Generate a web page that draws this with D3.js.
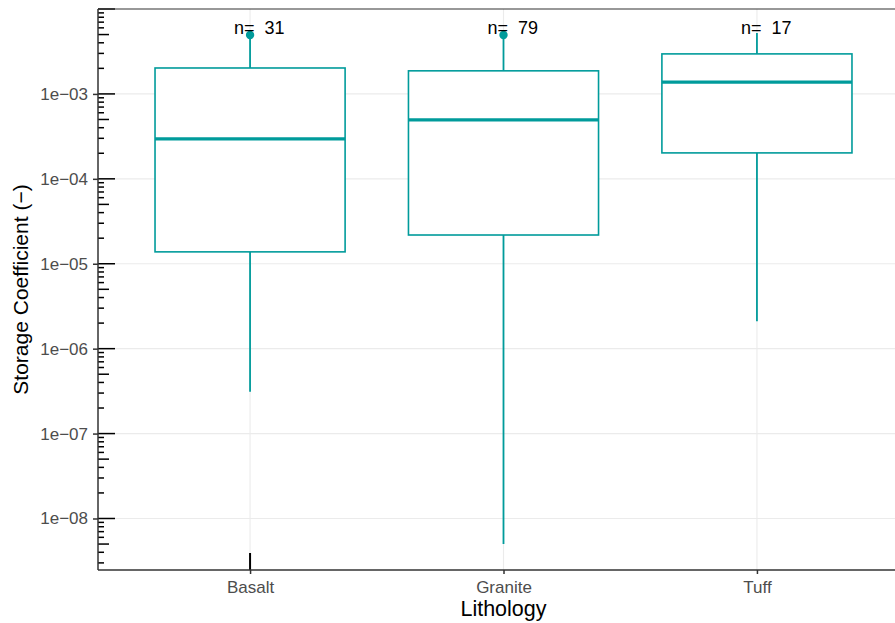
<!DOCTYPE html>
<html>
<head>
<meta charset="utf-8">
<script src="https://cdn.jsdelivr.net/npm/d3@7"></script>
<style>
  html, body { margin: 0; padding: 0; background: #fff; }
  svg { display: block; }
</style>
</head>
<body>
<svg id="chart" width="895" height="623"></svg>
<script>
// ---- data ----
const categories   = ["Basalt", "Granite", "Tuff"];
const counts       = [31, 79, 17];
const whiskerLow   = [3.1e-7, 5.0e-9, 2.1e-6];
const q1           = [1.38e-5, 2.18e-5, 2.02e-4];
const medians      = [2.95e-4, 4.94e-4, 1.38e-3];
const q3           = [2.02e-3, 1.87e-3, 2.96e-3];
const whiskerHigh  = [4.6e-3, 4.6e-3, 5.2e-3];
const outliers     = [[4.95e-3], [4.95e-3], []];
const yTicks       = [1e-8, 1e-7, 1e-6, 1e-5, 1e-4, 1e-3];
const yTickLabels  = ["1e\u221208", "1e\u221207", "1e\u221206", "1e\u221205", "1e\u221204", "1e\u221203"];
const xTitle = "Lithology";
const yTitle = "Storage Coefficient (\u2212)";

const teal = "#009B9B";
const W = 895, H = 623;
const panel = { left: 98, top: 9, right: 909, bottom: 570 };
const FONT = "Liberation Sans, Arial, sans-serif";

const svg = d3.select("#chart");

const x = d3.scalePoint().domain(categories)
  .range([panel.left, panel.right]).padding(0.6);
const step = x.step();
const boxW = step * 0.75;

const y = d3.scaleLog().domain([2.474e-9, 1e-2]).range([panel.bottom, panel.top]);

// clip to visible panel
svg.append("defs").append("clipPath").attr("id", "clip")
  .append("rect").attr("x", panel.left).attr("y", panel.top)
  .attr("width", W - panel.left).attr("height", panel.bottom - panel.top);

const g = svg.append("g").attr("clip-path", "url(#clip)");

// gridlines
g.selectAll(".hgrid").data(yTicks).join("line")
  .attr("x1", panel.left).attr("x2", panel.right)
  .attr("y1", d => y(d)).attr("y2", d => y(d))
  .attr("stroke", "#EBEBEB").attr("stroke-width", 1.1);
g.selectAll(".vgrid").data(categories).join("line")
  .attr("x1", d => x(d)).attr("x2", d => x(d))
  .attr("y1", panel.top).attr("y2", panel.bottom)
  .attr("stroke", "#EBEBEB").attr("stroke-width", 1.1);

// boxplots
const rows = categories.map((c, i) => ({
  c, lo: whiskerLow[i], q1: q1[i], med: medians[i], q3: q3[i], hi: whiskerHigh[i], out: outliers[i]
}));

const bx = g.selectAll(".box").data(rows).join("g");
bx.append("line")
  .attr("x1", d => x(d.c)).attr("x2", d => x(d.c))
  .attr("y1", d => y(d.q3)).attr("y2", d => y(d.hi))
  .attr("stroke", teal).attr("stroke-width", 1.8);
bx.append("line")
  .attr("x1", d => x(d.c)).attr("x2", d => x(d.c))
  .attr("y1", d => y(d.q1)).attr("y2", d => y(d.lo))
  .attr("stroke", teal).attr("stroke-width", 1.8);
bx.append("rect")
  .attr("x", d => x(d.c) - boxW / 2).attr("width", boxW)
  .attr("y", d => y(d.q3)).attr("height", d => y(d.q1) - y(d.q3))
  .attr("fill", "white").attr("stroke", teal).attr("stroke-width", 1.6);
bx.append("line")
  .attr("x1", d => x(d.c) - boxW / 2).attr("x2", d => x(d.c) + boxW / 2)
  .attr("y1", d => y(d.med)).attr("y2", d => y(d.med))
  .attr("stroke", teal).attr("stroke-width", 3.2);
bx.selectAll("circle").data(d => d.out.map(v => ({ c: d.c, v }))).join("circle")
  .attr("cx", d => x(d.c)).attr("cy", d => y(d.v)).attr("r", 4.2)
  .attr("fill", teal);

// log ticks (left side, inside panel)
const logTicks = [];
for (let e = -9; e <= -2; e++) {
  for (let k = 1; k <= 9; k++) {
    const v = k * Math.pow(10, e);
    if (v >= y.domain()[0] && v <= y.domain()[1]) logTicks.push({ v, k });
  }
}
svg.selectAll(".logtick").data(logTicks).join("line")
  .attr("x1", panel.left)
  .attr("x2", d => panel.left + (d.k === 1 ? 17 : d.k === 5 ? 11 : 6))
  .attr("y1", d => y(d.v)).attr("y2", d => y(d.v))
  .attr("stroke", "black").attr("stroke-width", 1.5);

// bottom log tick at first category
svg.append("line")
  .attr("x1", x(categories[0])).attr("x2", x(categories[0]))
  .attr("y1", panel.bottom - 17).attr("y2", panel.bottom)
  .attr("stroke", "black").attr("stroke-width", 2);

// panel border / axes
svg.append("line").attr("x1", panel.left).attr("x2", W)
  .attr("y1", panel.top).attr("y2", panel.top)
  .attr("stroke", "#333").attr("stroke-width", 1.2);
svg.append("line").attr("x1", panel.left).attr("x2", panel.left)
  .attr("y1", panel.top).attr("y2", panel.bottom)
  .attr("stroke", "#333").attr("stroke-width", 1.5);
svg.append("line").attr("x1", panel.left).attr("x2", W)
  .attr("y1", panel.bottom).attr("y2", panel.bottom)
  .attr("stroke", "#333").attr("stroke-width", 1.5);

// y axis ticks + labels
const yAxis = d3.axisLeft(y).tickValues(yTicks)
  .tickFormat((d, i) => yTickLabels[i]).tickSize(5).tickPadding(5);
const ya = svg.append("g").attr("transform", `translate(${panel.left},0)`).call(yAxis);
ya.select(".domain").remove();
ya.selectAll(".tick line").attr("stroke", "#333").attr("stroke-width", 1.5);
ya.selectAll(".tick text").attr("fill", "#4D4D4D")
  .style("font-family", FONT).style("font-size", "17px");

// x axis ticks + labels
const xAxis = d3.axisBottom(x).tickSize(4).tickPadding(7);
const xa = svg.append("g").attr("transform", `translate(0,${panel.bottom})`).call(xAxis);
xa.select(".domain").remove();
xa.selectAll(".tick line").attr("stroke", "#333").attr("stroke-width", 1.5);
xa.selectAll(".tick text").attr("fill", "#4D4D4D")
  .style("font-family", FONT).style("font-size", "17px");

// n labels
svg.selectAll(".nlab").data(rows).join("text")
  .attr("x", (d) => x(d.c) - 16).attr("y", 34)
  .attr("fill", "black")
  .style("font-family", FONT).style("font-size", "18px")
  .style("white-space", "pre")
  .text((d, i) => "n=  " + counts[i]);

// titles
svg.append("text").attr("x", x(categories[1])).attr("y", 616)
  .attr("text-anchor", "middle").attr("fill", "black")
  .style("font-family", FONT).style("font-size", "21.5px")
  .text(xTitle);
svg.append("text").attr("transform", `translate(28,${(panel.top + panel.bottom) / 2}) rotate(-90)`)
  .attr("text-anchor", "middle").attr("fill", "black")
  .style("font-family", FONT).style("font-size", "21px")
  .text(yTitle);
</script>
</body>
</html>
